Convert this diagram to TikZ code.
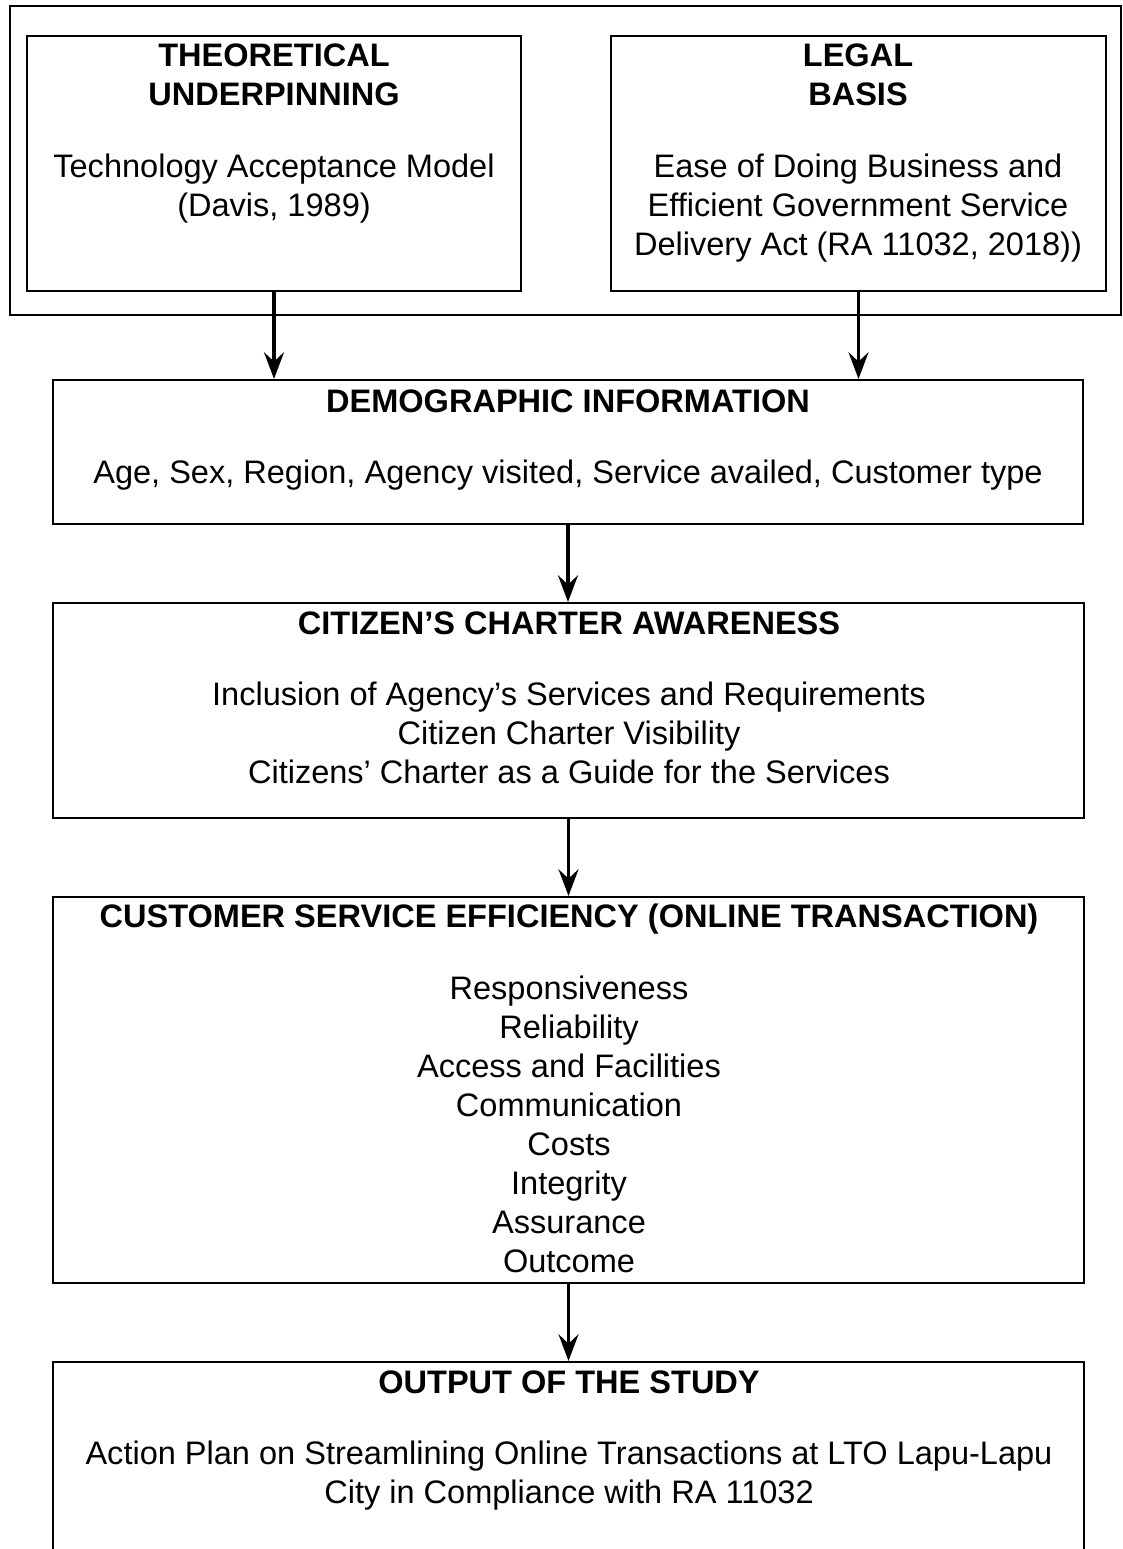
\documentclass[tikz,border=0pt]{standalone}
\usepackage{fontspec}
\setmainfont{Liberation Sans}
\usetikzlibrary{arrows.meta,fit}
\begin{document}
\begin{tikzpicture}[x=0.75pt,y=-0.75pt,
  box/.style={draw, line width=1.6pt, inner sep=0pt},
  ttl/.style={font=\bfseries\fontsize{24.4}{29.25}\selectfont, anchor=base, inner sep=0pt},
  txt/.style={font=\fontsize{24.4}{29.25}\selectfont, anchor=base, inner sep=0pt},
  arr/.style={line width=2.5pt, -{Stealth[length=20pt,width=15pt,inset=7pt]}}]
\path[use as bounding box, clip] (0,0) rectangle (1123,1549);

% boxes
\node[box, fit={(10,6) (1121,315)}] (frame) {};
\node[box, fit={(27,36) (521,291)}] (theory) {};
\node[box, fit={(611,36) (1106,291)}] (legal) {};
\node[box, fit={(53,380) (1083,524)}] (demo) {};
\node[box, fit={(53,603) (1084,818)}] (charter) {};
\node[box, fit={(53,897) (1084,1283)}] (eff) {};
\node[box, fit={(53,1362) (1084,1620)}] (out) {};

% texts
\node[ttl] (t1) at (274,66) {THEORETICAL};
\node[ttl] (t2) at (274,105) {UNDERPINNING};
\node[txt] (t3) at (274,177) {Technology Acceptance Model};
\node[txt] (t4) at (274,216) {(Davis, 1989)};

\node[ttl] (l1) at (858,66) {LEGAL};
\node[ttl] (l2) at (858,105) {BASIS};
\node[txt] (l3) at (858,177) {Ease of Doing Business and};
\node[txt] (l4) at (858,216) {Efficient Government Service};
\node[txt] (l5) at (858,255) {Delivery Act (RA 11032, 2018))};

\node[ttl] (d1) at (568,412) {DEMOGRAPHIC INFORMATION};
\node[txt] (d2) at (568,483) {Age, Sex, Region, Agency visited, Service availed, Customer type};

\node[ttl] (c1) at (569,634) {CITIZEN’S CHARTER AWARENESS};
\node[txt] (c2) at (569,705) {Inclusion of Agency’s Services and Requirements};
\node[txt] (c3) at (569,744) {Citizen Charter Visibility};
\node[txt] (c4) at (569,783) {Citizens’ Charter as a Guide for the Services};

\node[ttl] (e0) at (569,927) {CUSTOMER SERVICE EFFICIENCY (ONLINE TRANSACTION)};
\foreach \t [count=\i] in {Responsiveness, Reliability, Access and Facilities, Communication, Costs, Integrity, Assurance, Outcome}
  \node[txt] (e\i) at (569,{999+(\i-1)*39.14}) {\t};

\node[ttl] (o1) at (569,1393) {OUTPUT OF THE STUDY};
\node[txt] (o2) at (569,1464) {Action Plan on Streamlining Online Transactions at LTO Lapu-Lapu};
\node[txt] (o3) at (569,1503) {City in Compliance with RA 11032};

% connectors
\draw[arr] (theory.south) -- (theory.south |- demo.north);
\draw[arr] (legal.south) -- (legal.south |- demo.north);
\draw[arr] (demo.south) -- (demo.south |- charter.north);
\draw[arr] (charter.south) -- (charter.south |- eff.north);
\draw[arr] (eff.south) -- (eff.south |- out.north);
\end{tikzpicture}
\end{document}
